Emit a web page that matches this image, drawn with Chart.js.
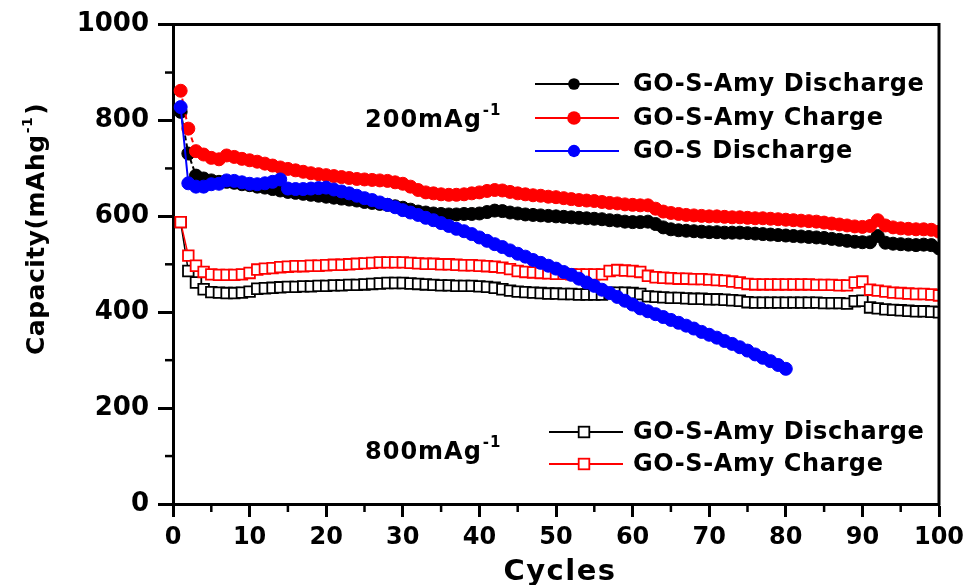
<!DOCTYPE html>
<html>
<head>
<meta charset="utf-8">
<script src="https://cdn.jsdelivr.net/npm/chart.js@4"></script>
<style>
  html, body { margin: 0; padding: 0; background: #fff; }
  #wrap { width: 976px; height: 585px; position: relative; }
</style>
</head>
<body>
<div id="wrap"><canvas id="c"></canvas></div>
<script>
// ---------- data ----------
const cycles = Array.from({ length: 100 }, (_, i) => i + 1);

const amyDis200 = [818,731,685,679,675,672,672,670,667,665,
  662,660,657,654,651,649,647,645,643,641,
  639,637,635,633,630,628,626,624,621,618,
  614,610,608,606,605,604,604,605,605,606,
  609,612,611,608,606,604,603,602,601,600,
  599,598,597,596,595,594,592,591,589,588,
  588,589,584,577,573,571,570,569,568,567,
  567,566,566,566,565,564,563,562,561,560,
  559,558,557,556,555,553,551,549,547,546,
  546,559,545,543,542,541,540,541,540,533];

const amyChg200 = [862,783,736,729,722,719,727,724,720,717,
  714,710,706,702,699,696,693,690,688,686,
  684,682,680,678,677,676,675,674,671,668,
  662,655,650,648,646,645,645,646,648,650,
  653,655,654,651,648,646,644,643,641,640,
  638,636,634,633,632,630,628,627,625,624,
  623,623,616,610,607,605,603,602,601,600,
  600,599,598,598,597,596,596,595,594,593,
  592,591,590,589,587,585,583,581,579,578,
  580,592,581,577,575,574,573,573,572,568];

const goSDis200 = [828,669,662,662,667,668,675,674,671,668,
  667,669,672,677,658,657,657,658,659,660,
  656,652,648,643,638,634,629,624,619,613,
  608,603,597,592,586,580,574,569,563,556,
  549,542,536,529,522,516,509,503,497,491,
  484,478,470,462,455,447,440,432,424,416,
  408,402,396,390,384,378,372,366,359,353,
  347,340,334,327,320,312,305,298,290,282];

const amyDis800 = [588,486,462,448,442,441,440,440,441,443,
  449,450,451,452,453,453,454,454,455,455,
  456,456,457,457,458,459,460,461,461,461,
  460,459,458,457,456,456,455,455,455,454,
  453,451,448,445,443,442,441,440,439,439,
  438,438,437,437,437,437,440,441,441,440,
  438,433,432,431,430,430,429,428,428,427,
  427,426,425,424,421,420,420,420,420,420,
  420,420,420,420,419,419,419,418,423,424,
  410,408,406,405,404,403,402,402,401,400];

const amyChg800 = [588,518,497,484,479,478,478,478,479,482,
  489,491,492,494,495,496,496,497,497,498,
  499,499,500,501,502,503,504,504,504,504,
  503,502,501,501,500,500,499,498,498,497,
  496,495,493,490,486,484,483,482,481,480,
  480,479,479,479,479,479,486,488,487,486,
  484,476,473,472,471,470,470,469,469,468,
  467,466,464,462,459,458,458,458,458,458,
  458,458,458,457,457,457,456,456,462,464,
  447,445,443,441,440,439,438,438,437,435];

const xMajorTicks = [0,10,20,30,40,50,60,70,80,90,100];
const xMinorTicks = [5,15,25,35,45,55,65,75,85,95];
const yMajorTicks = [0,200,400,600,800,1000];
const yMinorTicks = [100,300,500,700,900];

const seriesNames = ['GO-S-Amy Discharge','GO-S-Amy Charge','GO-S Discharge','GO-S-Amy Discharge','GO-S-Amy Charge'];
const rateLabels = ['200mAg', '800mAg'];
const xTitle = 'Cycles';
const yTitle = 'Capacity(mAhg';

// ---------- helpers ----------
const pts = (arr) => arr.map((v, i) => ({ x: cycles[i], y: v }));
const FONT = '"DejaVu Sans", "Liberation Sans", Arial, sans-serif';

const styles = [
  { color: '#000000', fill: '#000000', shape: 'circle', r: 6.5 },
  { color: '#ff0000', fill: '#ff0000', shape: 'circle', r: 6.5 },
  { color: '#0000ff', fill: '#0000ff', shape: 'circle', r: 6.5 },
  { color: '#000000', fill: '#ffffff', shape: 'rect', r: 7.5 },
  { color: '#ff0000', fill: '#ffffff', shape: 'rect', r: 7.5 }
];

function mkSet(i, data, order, dash) {
  const s = styles[i];
  return {
    label: seriesNames[i],
    data: pts(data),
    borderColor: s.color,
    backgroundColor: s.fill,
    borderWidth: s.shape === 'rect' ? 1.5 : 2,
    borderDash: dash || [],
    pointStyle: s.shape,
    pointRadius: s.r,
    pointBorderWidth: s.shape === 'rect' ? 1.8 : 1,
    pointBorderColor: s.color,
    pointBackgroundColor: s.fill,
    fill: false,
    tension: 0,
    order: order
  };
}

function drawMarker(ctx, s, x, y, scale) {
  ctx.save();
  const r = s.r * scale;
  if (s.shape === 'circle') {
    ctx.beginPath();
    ctx.arc(x, y, r, 0, Math.PI * 2);
    ctx.fillStyle = s.fill;
    ctx.fill();
  } else {
    const h = r * Math.SQRT1_2;
    ctx.fillStyle = s.fill;
    ctx.fillRect(x - h, y - h, 2 * h, 2 * h);
    ctx.strokeStyle = s.color;
    ctx.lineWidth = 1.8;
    ctx.strokeRect(x - h, y - h, 2 * h, 2 * h);
  }
  ctx.restore();
}

function legendItem(ctx, i, x1, x2, xm, y, tx, scale) {
  const s = styles[i];
  ctx.save();
  ctx.strokeStyle = s.color;
  ctx.lineWidth = 2;
  ctx.beginPath(); ctx.moveTo(x1, y); ctx.lineTo(x2, y); ctx.stroke();
  drawMarker(ctx, s, xm, y, scale);
  ctx.fillStyle = '#000';
  ctx.font = 'bold 24px ' + FONT;
  ctx.letterSpacing = '0.6px';
  ctx.textBaseline = 'middle';
  ctx.textAlign = 'left';
  ctx.fillText(seriesNames[i], tx, y + 1);
  ctx.restore();
}

function supText(ctx, main, x, y, size, supSize) {
  ctx.font = 'bold ' + size + 'px ' + FONT;
  ctx.fillText(main, x, y);
  const w = ctx.measureText(main).width;
  ctx.font = 'bold ' + supSize + 'px ' + FONT;
  ctx.fillText('-1', x + w + 1, y - size * 0.5);
  return w + 1 + ctx.measureText('-1').width;
}

const decor = {
  id: 'decor',
  afterDraw(chart) {
    const { ctx, chartArea: a, scales } = chart;
    const xs = scales.x, ys = scales.y;
    ctx.save();
    ctx.strokeStyle = '#000';
    ctx.lineWidth = 3;
    ctx.beginPath();
    ctx.moveTo(a.left - 1.5, a.top);
    ctx.lineTo(a.right, a.top);
    ctx.lineTo(a.right, a.bottom + 1.5);
    ctx.stroke();
    // minor ticks
    ctx.lineWidth = 2.5;
    xMinorTicks.forEach(v => {
      const px = xs.getPixelForValue(v);
      ctx.beginPath(); ctx.moveTo(px, a.bottom); ctx.lineTo(px, a.bottom + 8); ctx.stroke();
    });
    yMinorTicks.forEach(v => {
      const py = ys.getPixelForValue(v);
      ctx.beginPath(); ctx.moveTo(a.left - 8, py); ctx.lineTo(a.left, py); ctx.stroke();
    });

    // legends
    legendItem(ctx, 0, 535, 619, 574, 84, 633, 0.9);
    legendItem(ctx, 1, 535, 619, 574, 118, 633, 1.05);
    legendItem(ctx, 2, 535, 619, 574, 151, 633, 0.95);
    legendItem(ctx, 3, 549, 623, 584, 432, 633, 1.0);
    legendItem(ctx, 4, 549, 623, 584, 464, 633, 1.0);

    // rate annotations
    ctx.fillStyle = '#000';
    ctx.textAlign = 'left';
    ctx.textBaseline = 'alphabetic';
    ctx.letterSpacing = '1px';
    supText(ctx, rateLabels[0], 365, 127, 24, 15);
    supText(ctx, rateLabels[1], 365, 459, 24, 15);

    // x title
    ctx.font = 'bold 29px ' + FONT;
    ctx.letterSpacing = '1.5px';
    ctx.textAlign = 'center';
    ctx.fillText(xTitle, 560, 580);

    // y title
    ctx.letterSpacing = '0.5px';
    ctx.save();
    ctx.translate(44, 355);
    ctx.rotate(-Math.PI / 2);
    ctx.textAlign = 'left';
    const w = supText(ctx, yTitle, 0, 0, 25, 14);
    ctx.font = 'bold 25px ' + FONT;
    ctx.fillText(')', w + 2, 0);
    ctx.restore();

    ctx.restore();
  }
};

new Chart(document.getElementById('c'), {
  type: 'line',
  data: {
    datasets: [
      mkSet(3, amyDis800, 4),
      mkSet(4, amyChg800, 3),
      mkSet(0, amyDis200, 2, [5, 3]),
      mkSet(1, amyChg200, 1, [5, 3]),
      mkSet(2, goSDis200, 0)
    ]
  },
  options: {
    responsive: true,
    maintainAspectRatio: false,
    animation: false,
    devicePixelRatio: 1,
    layout: { padding: { top: 22, right: 37, left: 0, bottom: 0 } },
    plugins: { legend: { display: false }, tooltip: { enabled: false }, title: { display: false } },
    scales: {
      x: {
        type: 'linear',
        min: 0, max: 100,
        afterFit: (s) => { s.height = 81; },
        afterBuildTicks: (s) => { s.ticks = xMajorTicks.map(v => ({ value: v })); },
        border: { display: true, color: '#000', width: 3 },
        grid: { display: true, drawOnChartArea: false, drawTicks: true, tickLength: 13, tickWidth: 3, tickColor: '#000' },
        ticks: { color: '#000', padding: 6, maxRotation: 0, autoSkip: false,
                 callback: (v) => String(v),
                 font: { family: FONT, weight: 'bold', size: 24 } }
      },
      y: {
        type: 'linear',
        min: 0, max: 1000,
        afterFit: (s) => { s.width = 173; },
        afterBuildTicks: (s) => { s.ticks = yMajorTicks.map(v => ({ value: v })); },
        border: { display: true, color: '#000', width: 3 },
        grid: { display: true, drawOnChartArea: false, drawTicks: true, tickLength: 15, tickWidth: 3, tickColor: '#000' },
        ticks: { color: '#000', padding: 9, autoSkip: false,
                 callback: (v) => String(v),
                 font: { family: FONT, weight: 'bold', size: 26 } }
      }
    }
  },
  plugins: [decor]
});
</script>
</body>
</html>
